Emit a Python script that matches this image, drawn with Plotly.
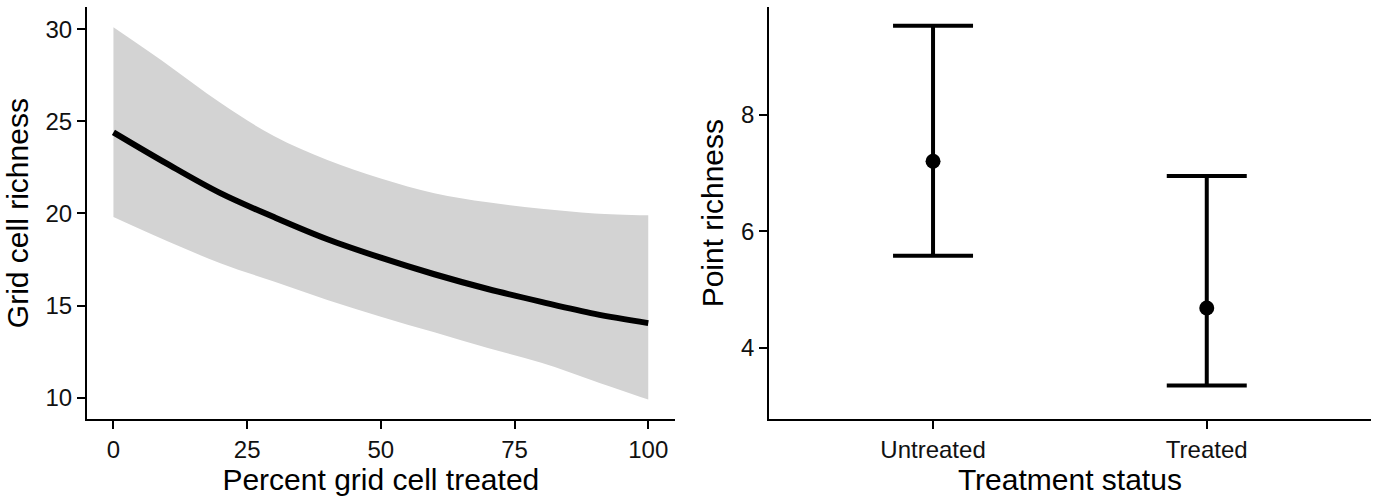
import plotly.graph_objects as go

# ---- Left panel: grid cell richness vs percent treated ----
pct_treated = [0, 10, 20, 30, 40, 50, 60, 70, 80, 90, 100]
fit_richness = [24.4, 22.7, 21.1, 19.8, 18.6, 17.6, 16.7, 15.9, 15.2, 14.55, 14.05]
ci_lower = [19.8, 18.5, 17.3, 16.3, 15.3, 14.4, 13.55, 12.7, 11.9, 10.9, 9.9]
ci_upper = [30.1, 28.1, 26.0, 24.2, 22.9, 21.9, 21.1, 20.6, 20.25, 20.0, 19.9]
left_xticks = [0, 25, 50, 75, 100]
left_yticks = [10, 15, 20, 25, 30]

# ---- Right panel: point richness by treatment status ----
status = ["Untreated", "Treated"]
point_mean = [7.20, 4.68]
point_low = [5.58, 3.35]
point_high = [9.53, 6.95]
right_yticks = [4, 6, 8]

W, H = 1378, 498
FONT = "Liberation Sans, Arial, sans-serif"

fig = go.Figure()

fig.add_trace(go.Scatter(x=pct_treated, y=ci_lower, mode="lines",
                         line=dict(width=0, color="#d3d3d3", shape="spline"),
                         showlegend=False, hoverinfo="skip",
                         xaxis="x", yaxis="y"))
fig.add_trace(go.Scatter(x=pct_treated, y=ci_upper, mode="lines",
                         line=dict(width=0, color="#d3d3d3", shape="spline"),
                         fill="tonexty", fillcolor="#d3d3d3",
                         showlegend=False, hoverinfo="skip",
                         xaxis="x", yaxis="y"))
fig.add_trace(go.Scatter(x=pct_treated, y=fit_richness, mode="lines",
                         line=dict(width=6, color="black", shape="spline"),
                         showlegend=False, xaxis="x", yaxis="y"))

err_plus = [h - m for h, m in zip(point_high, point_mean)]
err_minus = [m - l for m, l in zip(point_mean, point_low)]
fig.add_trace(go.Scatter(x=status, y=point_mean, mode="markers",
                         marker=dict(size=15, color="black"),
                         error_y=dict(type="data", array=err_plus,
                                      arrayminus=err_minus, symmetric=False,
                                      color="black", thickness=4, width=40),
                         showlegend=False, xaxis="x2", yaxis="y2"))

axis_common = dict(showline=True, linecolor="black", linewidth=1.5,
                   ticks="outside", ticklen=8, tickwidth=1.5, tickcolor="black",
                   showgrid=False, zeroline=False,
                   tickfont=dict(family=FONT, size=24, color="#111111"),
                   title_font=dict(family=FONT, size=30, color="black"))

ydom = [1 - 419.3 / H, 1 - 7 / H]

fig.update_layout(
    width=W, height=H,
    margin=dict(l=0, r=0, t=0, b=0),
    paper_bgcolor="white", plot_bgcolor="white",
    xaxis=dict(domain=[86.7 / W, 675 / W], range=[-5, 105],
               tickvals=left_xticks, anchor="y",
               title=dict(text="Percent grid cell treated", standoff=6),
               **axis_common),
    yaxis=dict(domain=ydom, range=[8.83, 31.2], tickvals=left_yticks,
               anchor="x",
               title=dict(text="Grid cell richness", standoff=8),
               **axis_common),
    xaxis2=dict(domain=[768.8 / W, 1371 / W], type="category",
                range=[-0.6, 1.6], anchor="y2",
                title=dict(text="Treatment status", standoff=6),
                **axis_common),
    yaxis2=dict(domain=ydom, range=[2.77, 9.85], tickvals=right_yticks,
                anchor="x2",
                title=dict(text="Point richness", standoff=8),
                **axis_common),
)

fig.write_html("out.html")
